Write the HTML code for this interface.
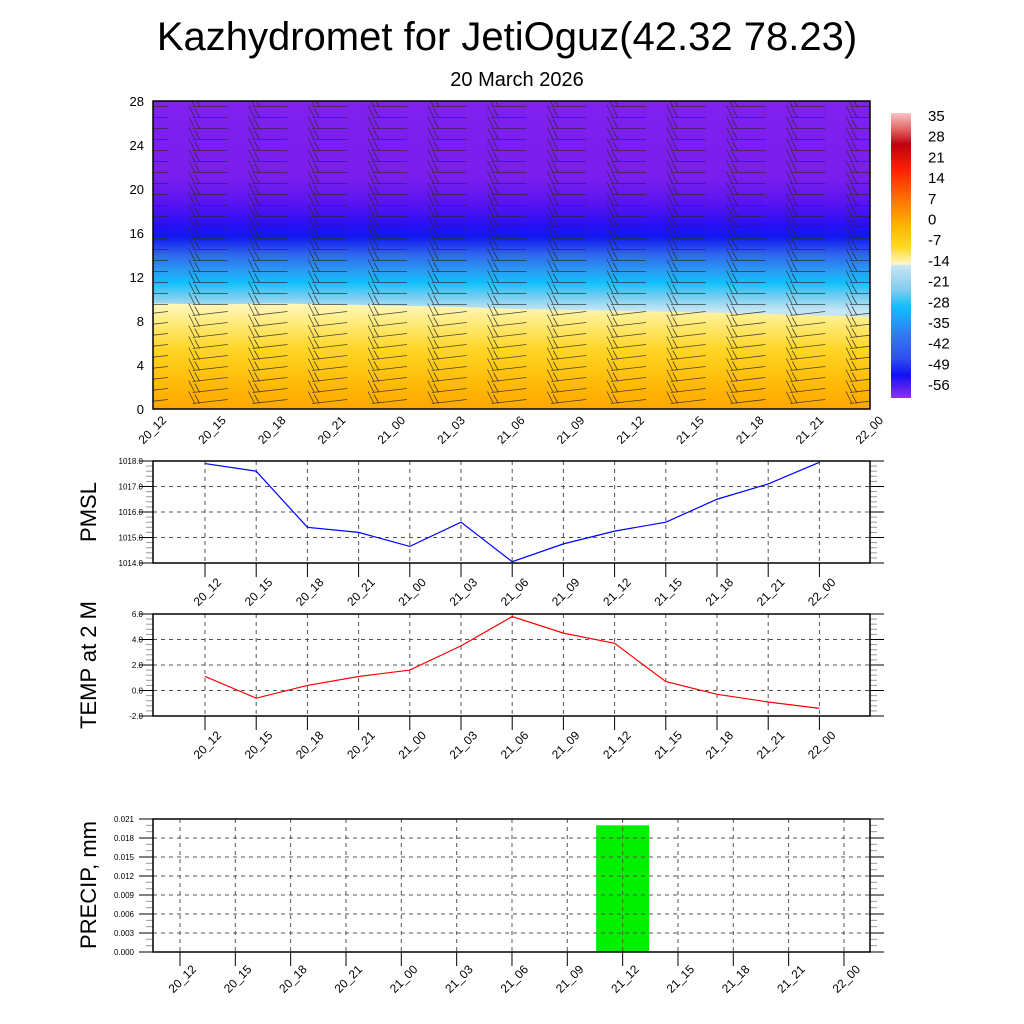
<!DOCTYPE html>
<html><head><meta charset="utf-8"><style>
html,body{margin:0;padding:0;background:#fff}
svg{display:block;font-family:"Liberation Sans",sans-serif}
</style></head><body>
<svg id="chart" width="1024" height="1024" viewBox="0 0 1024 1024" xmlns="http://www.w3.org/2000/svg">
<defs>
<linearGradient id="upperGrad" x1="0" y1="101" x2="0" y2="409" gradientUnits="userSpaceOnUse">
<stop offset="0" stop-color="#8020ee"/>
<stop offset="0.25" stop-color="#7a1eee"/>
<stop offset="0.33" stop-color="#5a14f0"/>
<stop offset="0.40" stop-color="#2a10f4"/>
<stop offset="0.44" stop-color="#1018f0"/>
<stop offset="0.50" stop-color="#2f68ee"/>
<stop offset="0.55" stop-color="#2a9af2"/>
<stop offset="0.59" stop-color="#10c0fa"/>
<stop offset="0.64" stop-color="#80cff0"/>
<stop offset="0.68" stop-color="#c4e6f4"/>
<stop offset="1" stop-color="#d0ecf5"/>
</linearGradient>
<linearGradient id="lowerGrad" x1="0" y1="300" x2="0" y2="409" gradientUnits="userSpaceOnUse">
<stop offset="0" stop-color="#fffac8"/>
<stop offset="0.2" stop-color="#ffec80"/>
<stop offset="0.45" stop-color="#ffd626"/>
<stop offset="0.75" stop-color="#ffbc08"/>
<stop offset="1" stop-color="#ffa600"/>
</linearGradient>
<linearGradient id="cbGrad" x1="0" y1="113" x2="0" y2="398" gradientUnits="userSpaceOnUse">
<stop offset="0" stop-color="#f8c4c4"/>
<stop offset="0.06" stop-color="#e06060"/>
<stop offset="0.11" stop-color="#c00010"/>
<stop offset="0.2" stop-color="#ff2000"/>
<stop offset="0.3" stop-color="#ff7000"/>
<stop offset="0.4" stop-color="#ffb800"/>
<stop offset="0.47" stop-color="#ffd820"/>
<stop offset="0.53" stop-color="#fff8c8"/>
<stop offset="0.535" stop-color="#c8e6f4"/>
<stop offset="0.62" stop-color="#80ccee"/>
<stop offset="0.68" stop-color="#10c0ff"/>
<stop offset="0.78" stop-color="#3078f0"/>
<stop offset="0.86" stop-color="#3050f0"/>
<stop offset="0.92" stop-color="#1010f8"/>
<stop offset="1" stop-color="#9030e8"/>
</linearGradient>
<clipPath id="topClip"><rect x="153" y="101" width="717" height="308"/></clipPath>
</defs>
<text x="507" y="50" font-size="40" text-anchor="middle">Kazhydromet for JetiOguz(42.32 78.23)</text>
<text x="517" y="86" font-size="20" text-anchor="middle">20 March 2026</text>
<g id="topPanel"></g>
<g id="cbar"></g>
<g id="pmsl"></g>
<g id="temp"></g>
<g id="precip"></g>
</svg>
<script>
const timeLabels = ["20_12","20_15","20_18","20_21","21_00","21_03","21_06","21_09","21_12","21_15","21_18","21_21","22_00"];
const heightTicks = [0,4,8,12,16,20,24,28];
const colorbarLabels = ["35","28","21","14","7","0","-7","-14","-21","-28","-35","-42","-49","-56"];
const freezingLevel = [9.6,9.5,9.6,9.5,9.4,9.3,9.1,9.0,8.9,8.8,8.7,8.5,8.4];
const pmslValues = [1017.9,1017.6,1015.4,1015.2,1014.65,1015.6,1014.05,1014.75,1015.25,1015.6,1016.5,1017.1,1017.95];
const pmslTicks = [1014,1015,1016,1017,1018];
const tempValues = [1.1,-0.6,0.4,1.1,1.6,3.5,5.8,4.5,3.7,0.7,-0.3,-0.9,-1.4];
const tempTicks = [-2,0,2,4,6];
const precipValues = [0,0,0,0,0,0,0,0,0.020,0,0,0,0];
const precipTicks = [0,0.003,0.006,0.009,0.012,0.015,0.018,0.021];
const windLevels = [0.5,1.5,2.5,3.5,4.5,5.5,6.5,7.5,8.5,9.5,10.5,11.5,12.5,13.5,14.5,15.5,16.5,17.5,18.5,19.5,20.5,21.5,22.5,23.5,24.5,25.5,26.5,27.5];

const NS="http://www.w3.org/2000/svg";
function mk(parent,tag,attrs){const el=document.createElementNS(NS,tag);for(const k in attrs)el.setAttribute(k,attrs[k]);parent.appendChild(el);return el;}

// ---------- top panel ----------
const topG=document.getElementById('topPanel');
const tx=i=>153+i*(717/12);
const ty=v=>409-v*11;
let e=mk(topG,'rect',{x:153,y:101,width:717,height:308,fill:'url(#upperGrad)'});


let pts=freezingLevel.map((v,i)=>tx(i)+','+ty(v)).join(' ');
e=mk(topG,'polygon',{points:pts+' 870,409 153,409',fill:'url(#lowerGrad)'});


const bg=mk(topG,'g',{'clip-path':'url(#topClip)',stroke:'#2a2a2a','stroke-width':'0.8',fill:'none','stroke-opacity':'0.85'});


timeLabels.forEach((t,i)=>{
  windLevels.forEach(h=>{
    const x=tx(i)-20, y=ty(h);
    const slope = h<9.5 ? -4 : 0;
    const b=mk(bg,'path',{d:`M${x} ${y} L${x+35} ${y+slope} M${x+2} ${y} L${x-4} ${y-12} M${x+7} ${y} L${x+2} ${y-9}`});
    
    
  });
});
e=mk(topG,'rect',{x:153,y:101,width:717,height:308,fill:'none',stroke:'#000','stroke-width':1.5});


heightTicks.forEach(v=>{
  const l=mk(topG,'text',{x:144,y:ty(v)+5,'font-size':13,'text-anchor':'end'});l.textContent=v;
  
  
});
timeLabels.forEach((t,i)=>{
  const l=mk(topG,'text',{x:0,y:0,'font-size':12,'text-anchor':'end',transform:`translate(${tx(i)+14},${421}) rotate(-45)`});l.textContent=t;
  
  
});

// ---------- colorbar ----------
const cbG=document.getElementById('cbar');
e=mk(cbG,'rect',{x:891,y:113,width:20,height:285,fill:'url(#cbGrad)'});


colorbarLabels.forEach((lb,i)=>{
  const l=mk(cbG,'text',{x:928,y:121+i*20.7,'font-size':15});l.textContent=lb;
  
  
});

// ---------- line panels ----------
function linePanel(g,y0,y1,ticks,title,titlePos,xStart,xStep,fmt,minorStep,labelX,lblDy){
  const lo=ticks[0],hi=ticks[ticks.length-1];
  const py=v=>y1-(v-lo)/(hi-lo)*(y1-y0);
  const px=i=>xStart+i*xStep;
  let el;
  const grid=mk(g,'g',{stroke:'#555','stroke-width':1,'stroke-dasharray':'4,4'});
  
  
  ticks.forEach(v=>{ if(v>lo&&v<hi){el=mk(grid,'line',{x1:153,x2:870,y1:py(v),y2:py(v)});
    
    }});
  timeLabels.forEach((t,i)=>{el=mk(grid,'line',{x1:px(i),x2:px(i),y1:y0,y2:y1});
    
    });
  const tk=mk(g,'g',{stroke:'#000','stroke-width':1});
  
  
  const n=Math.round((hi-lo)/minorStep);
  for(let k=0;k<=n;k++){
    const v=lo+k*minorStep;
    const isMaj=ticks.some(t=>Math.abs(t-v)<minorStep/10);
    const L=isMaj?14:7;
    el=mk(tk,'line',{x1:153-L,x2:153,y1:py(v),y2:py(v),stroke:isMaj?'#000':'#999'});
    
    
    el=mk(tk,'line',{x1:870,x2:870+L,y1:py(v),y2:py(v),stroke:isMaj?'#000':'#999'});
    
    
  }
  timeLabels.forEach((t,i)=>{el=mk(tk,'line',{x1:px(i),x2:px(i),y1:y1,y2:y1+14});
    
    });
  el=mk(g,'rect',{x:153,y:y0,width:717,height:y1-y0,fill:'none',stroke:'#000','stroke-width':1.5});
  
  
  ticks.forEach(v=>{el=mk(g,'text',{x:labelX,y:py(v)+3,'font-size':8,'text-anchor':'end'});el.textContent=fmt(v);
    
    });
  timeLabels.forEach((t,i)=>{el=mk(g,'text',{x:0,y:0,'font-size':12,'text-anchor':'end',transform:`translate(${px(i)+17},${y1+lblDy}) rotate(-45)`});el.textContent=t;
    
    });
  el=mk(g,'text',{x:0,y:0,'font-size':22,'text-anchor':'middle',transform:`translate(${titlePos[0]},${titlePos[1]}) rotate(-90)`});el.textContent=title;
  
  
  return {px,py};
}
const pmG=document.getElementById('pmsl');
const pm=linePanel(pmG,461,563,pmslTicks,'PMSL',[96,512],205,51.2,v=>v.toFixed(1),0.2,143,20);
e=mk(pmG,'polyline',{points:pmslValues.map((v,i)=>pm.px(i)+','+pm.py(v)).join(' '),fill:'none',stroke:'#00f','stroke-width':1.2});


const tpG=document.getElementById('temp');
const tp=linePanel(tpG,614,716,tempTicks,'TEMP at 2 M',[96,665],205,51.2,v=>v.toFixed(1),0.4,143,20);
e=mk(tpG,'polyline',{points:tempValues.map((v,i)=>tp.px(i)+','+tp.py(v)).join(' '),fill:'none',stroke:'#f00','stroke-width':1.2});



// precip
const prG=document.getElementById('precip');
const bars=mk(prG,'g',{});


const pr=linePanel(prG,819,952,precipTicks,'PRECIP, mm',[96,885],180,55.33,v=>v.toFixed(3),0.001,134,18);
precipValues.forEach((v,i)=>{ if(v>0){
  const r=mk(bars,'rect',{x:pr.px(i)-26.5,y:pr.py(v),width:53,height:pr.py(0)-pr.py(v),fill:'#00f000'});
  
  
}});
</script>
</body></html>
